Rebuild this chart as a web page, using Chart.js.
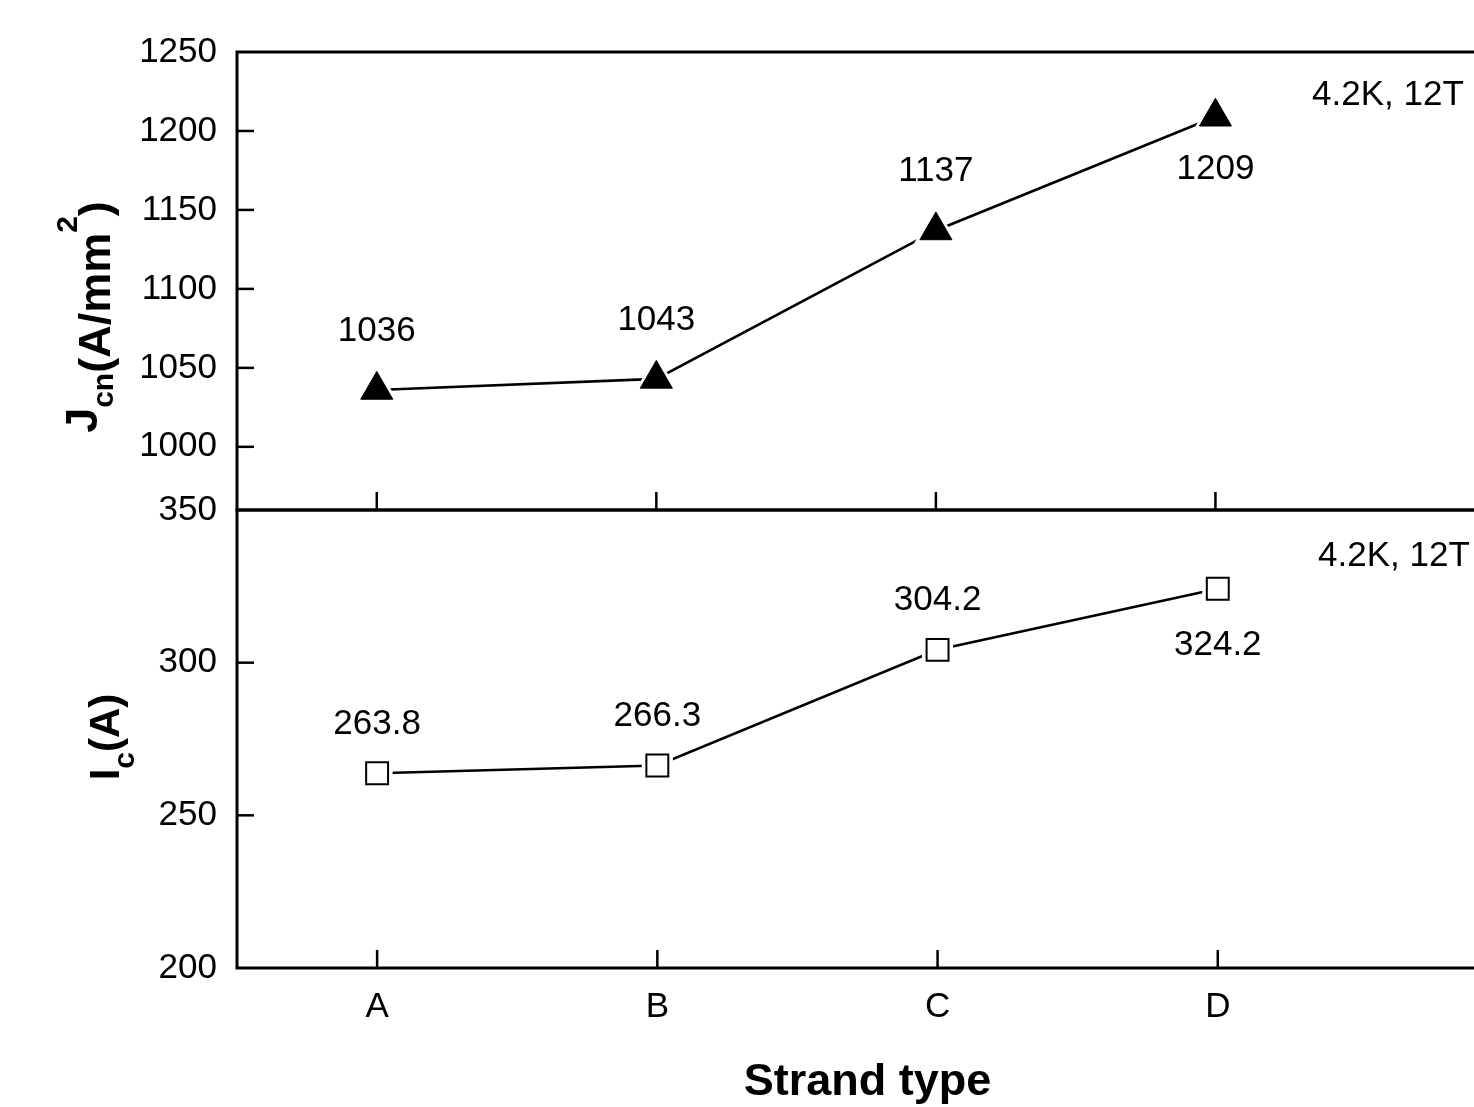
<!DOCTYPE html>
<html>
<head>
<meta charset="utf-8">
<script src="https://cdn.jsdelivr.net/npm/chart.js@4.4.0/dist/chart.umd.min.js"></script>
<style>
    html, body { margin: 0; padding: 0; background: #fff; overflow: hidden; }
    #wrap { position: relative; width: 1520px; height: 1107px; }
    #topBox { position: absolute; left: 0; top: 0; width: 1520px; height: 540px; }
    #botBox { position: absolute; left: 0; top: 480px; width: 1520px; height: 627px; }
</style>
</head>
<body>
<div id="wrap">
    <div id="topBox"><canvas id="jcnChart"></canvas></div>
    <div id="botBox"><canvas id="icChart"></canvas></div>
</div>
<script>
// values
const strands = ['A', 'B', 'C', 'D'];
const jcnValues = [1036, 1043, 1137, 1209];
const icValues = [263.8, 266.3, 304.2, 324.2];
const jcnLabelSide = ['above', 'above', 'above', 'below'];
const icLabelSide = ['above', 'above', 'above', 'below'];
const jcnTicks = [1000, 1050, 1100, 1150, 1200, 1250];
const icTicks = [200, 250, 300, 350];
const conditionText = '4.2K, 12T';

const FONT = '"Liberation Sans", Arial, sans-serif';
Chart.defaults.font.family = FONT;
Chart.defaults.color = '#000';

function toPoints(vals) {
    return vals.map((v, i) => ({ x: i, y: v }));
}

// frame + inward tick marks (Origin style)
const framePlugin = {
    id: 'frame',
    afterDraw(chart) {
        const { ctx, chartArea: a, scales } = chart;
        ctx.save();
        ctx.strokeStyle = '#000';
        ctx.lineWidth = 3;
        ctx.strokeRect(a.left, a.top, a.right - a.left, a.bottom - a.top);
        ctx.lineWidth = 2.5;
        scales.y.ticks.forEach(t => {
            if (t.value <= scales.y.min || t.value >= scales.y.max) return;
            const y = scales.y.getPixelForValue(t.value);
            ctx.beginPath();
            ctx.moveTo(a.left, y);
            ctx.lineTo(a.left + 17, y);
            ctx.stroke();
        });
        strands.forEach((s, i) => {
            const x = scales.x.getPixelForValue(i);
            ctx.beginPath();
            ctx.moveTo(x, a.bottom);
            ctx.lineTo(x, a.bottom - 18);
            ctx.stroke();
        });
        ctx.restore();
    }
};

function valueLabels(values, sides, above, below, fmt) {
    return {
        id: 'valueLabels',
        afterDatasetsDraw(chart) {
            const { ctx } = chart;
            const meta = chart.getDatasetMeta(0);
            ctx.save();
            ctx.font = '35px ' + FONT;
            ctx.fillStyle = '#000';
            ctx.textAlign = 'center';
            ctx.textBaseline = 'middle';
            meta.data.forEach((pt, i) => {
                const dy = sides[i] === 'above' ? above : below;
                ctx.fillText(fmt(values[i]), pt.x, pt.y + dy);
            });
            ctx.restore();
        }
    };
}

function drawRotatedRich(ctx, parts, baseX, centerY) {
    ctx.save();
    ctx.translate(baseX, centerY);
    ctx.rotate(-Math.PI / 2);
    ctx.fillStyle = '#000';
    ctx.textAlign = 'left';
    ctx.textBaseline = 'alphabetic';
    let total = 0;
    parts.forEach(p => {
        ctx.font = 'bold ' + p.size + 'px ' + FONT;
        p.w = ctx.measureText(p.text).width;
        total += p.w;
    });
    let x = -total / 2;
    parts.forEach(p => {
        ctx.font = 'bold ' + p.size + 'px ' + FONT;
        ctx.fillText(p.text, x, p.dy);
        x += p.w;
    });
    ctx.restore();
}

function titlePlugin(parts, baseX, centerY, noteX, noteY) {
    return {
        id: 'yTitle',
        afterDraw(chart) {
            const ctx = chart.ctx;
            drawRotatedRich(ctx, parts, baseX, centerY);
            ctx.save();
            ctx.font = '35px ' + FONT;
            ctx.fillStyle = '#000';
            ctx.textAlign = 'left';
            ctx.textBaseline = 'middle';
            ctx.fillText(conditionText, noteX, noteY);
            ctx.restore();
        }
    };
}

function makeDatasets(values, style, radius, haloRadius, fill, borderW) {
    return [
        {
            data: toPoints(values), order: 1, showLine: false,
            pointStyle: style, pointRadius: radius,
            pointBackgroundColor: fill, pointBorderColor: '#000', pointBorderWidth: borderW
        },
        {
            data: toPoints(values), order: 2, showLine: false,
            pointStyle: style, pointRadius: haloRadius,
            pointBackgroundColor: '#fff', pointBorderColor: '#fff', pointBorderWidth: 0
        },
        {
            data: toPoints(values), order: 3, showLine: true,
            borderColor: '#000', borderWidth: 2.6, pointRadius: 0, tension: 0
        }
    ];
}

function yScale(min, max, ticks) {
    return {
        type: 'linear', min: min, max: max,
        afterBuildTicks: s => { s.ticks = ticks.map(v => ({ value: v })); },
        afterFit: s => {
            s.width = 237;
            // panels butt against each other, so no label overhang padding
            s.paddingTop = 0;
            s.paddingBottom = 0;
        },
        grid: { display: false, drawTicks: false },
        border: { display: false },
        ticks: { padding: 20, font: { size: 35 }, callback: v => String(v) }
    };
}

// upper panel: Jcn
new Chart(document.getElementById('jcnChart'), {
    type: 'scatter',
    data: { datasets: makeDatasets(jcnValues, 'triangle', 18.5, 25, '#000', 1) },
    options: {
        responsive: true,
        maintainAspectRatio: false,
        animation: false,
        events: [],
        layout: { padding: { top: 52, bottom: 30, left: 0, right: 17 } },
        plugins: { legend: { display: false }, tooltip: { enabled: false } },
        scales: {
            x: { type: 'linear', min: -0.5, max: 4, display: false },
            y: yScale(960, 1250, jcnTicks)
        }
    },
    plugins: [
        framePlugin,
        valueLabels(jcnValues, jcnLabelSide, -59, 53, v => String(v)),
        titlePlugin([
            { text: 'J', size: 45, dy: -13 },
            { text: 'cn', size: 30, dy: 3 },
            { text: '(A/mm', size: 45, dy: 0 },
            { text: '2', size: 30, dy: -33 },
            { text: ')', size: 45, dy: 0 }
        ], 110, 317, 1312, 95)
    ]
});

// lower panel: Ic
new Chart(document.getElementById('icChart'), {
    type: 'scatter',
    data: { datasets: makeDatasets(icValues, 'rect', 15.5, 22, '#fff', 2) },
    options: {
        responsive: true,
        maintainAspectRatio: false,
        animation: false,
        events: [],
        layout: { padding: { top: 30, bottom: 0, left: 0, right: 17 } },
        plugins: { legend: { display: false }, tooltip: { enabled: false } },
        scales: {
            x: {
                type: 'linear', min: -0.5, max: 4,
                afterBuildTicks: s => { s.ticks = strands.map((_, i) => ({ value: i })); },
                afterFit: s => { s.height = 139; },
                grid: { display: false, drawTicks: false },
                border: { display: false },
                ticks: {
                    padding: 18, autoSkip: false, maxRotation: 0,
                    font: { size: 35 },
                    callback: v => strands[v] !== undefined ? strands[v] : ''
                },
                title: {
                    display: true, text: 'Strand type',
                    font: { size: 45, weight: 'bold', lineHeight: 1.1 },
                    padding: { top: 0, bottom: 0 }
                }
            },
            y: yScale(200, 350, icTicks)
        }
    },
    plugins: [
        framePlugin,
        valueLabels(icValues, icLabelSide, -49, 57, v => v.toFixed(1)),
        titlePlugin([
            { text: 'I', size: 42, dy: 0 },
            { text: 'c', size: 30, dy: 15 },
            { text: '(A)', size: 42, dy: 0 }
        ], 119, 257, 1318, 76)
    ]
});
</script>
</body>
</html>
